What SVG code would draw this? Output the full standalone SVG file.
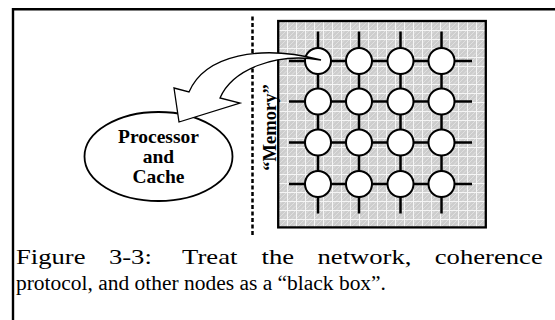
<svg xmlns="http://www.w3.org/2000/svg" width="555" height="320" viewBox="0 0 555 320">
<style>
.ln{stroke:#000;stroke-width:2.5;fill:none}
.nd{fill:#fff;stroke:#000;stroke-width:2}
.bt{font-family:"Liberation Serif","Times New Roman",serif;font-weight:bold;fill:#000}
.cap{font-family:"Liberation Serif","Times New Roman",serif;font-size:20.5px;fill:#000}
</style>
<defs>
<pattern id="hatch" width="9" height="9" patternUnits="userSpaceOnUse" x="278" y="21">
<rect width="9" height="9" fill="#cdcdcd"/>
<path d="M0,9 L9,0 M-2,2 L2,-2 M7,11 L11,7 M0,4.5 L4.5,0 M4.5,9 L9,4.5" stroke="#e2e2e2" stroke-width="0.9"/>
<rect width="9" height="1" fill="#f5f5f5"/>
<rect width="1" height="9" fill="#f5f5f5"/>
</pattern>
</defs>
<rect width="555" height="320" fill="#fff"/>
<g id="frame"><path d="M13,320 V9.3 H556" fill="none" stroke="#000" stroke-width="2.4"/></g>
<g id="network-box"><rect x="278.2" y="21" width="207.6" height="206.4" fill="url(#hatch)" stroke="#000" stroke-width="2.3"/></g>
<g id="connectors">
<path class="ln" d="M289,61 H472 M289,101.5 H472 M289,142.5 H472 M289,184 H472 M318,31.5 V213.5 M359,31.5 V213.5 M400.5,31.5 V213.5 M441.5,31.5 V213.5"/>
</g>
<g id="n11"><circle class="nd" cx="318" cy="61" r="13"/></g>
<g id="n12"><circle class="nd" cx="359" cy="61" r="13"/></g>
<g id="n13"><circle class="nd" cx="400.5" cy="61" r="13"/></g>
<g id="n14"><circle class="nd" cx="441.5" cy="61" r="13"/></g>
<g id="n21"><circle class="nd" cx="318" cy="101.5" r="13"/></g>
<g id="n22"><circle class="nd" cx="359" cy="101.5" r="13"/></g>
<g id="n23"><circle class="nd" cx="400.5" cy="101.5" r="13"/></g>
<g id="n24"><circle class="nd" cx="441.5" cy="101.5" r="13"/></g>
<g id="n31"><circle class="nd" cx="318" cy="142.5" r="13"/></g>
<g id="n32"><circle class="nd" cx="359" cy="142.5" r="13"/></g>
<g id="n33"><circle class="nd" cx="400.5" cy="142.5" r="13"/></g>
<g id="n34"><circle class="nd" cx="441.5" cy="142.5" r="13"/></g>
<g id="n41"><circle class="nd" cx="318" cy="184" r="13"/></g>
<g id="n42"><circle class="nd" cx="359" cy="184" r="13"/></g>
<g id="n43"><circle class="nd" cx="400.5" cy="184" r="13"/></g>
<g id="n44"><circle class="nd" cx="441.5" cy="184" r="13"/></g>
<g id="boundary"><line x1="252.5" y1="16.5" x2="252.5" y2="235" stroke="#000" stroke-width="2.5" stroke-dasharray="4 2.5"/>
<text class="bt" font-size="18.5" text-anchor="middle" transform="translate(275.5,127.5) rotate(-90)">“Memory”</text></g>
<g id="processor"><ellipse cx="158.5" cy="156.5" rx="74" ry="44.5" fill="#fff" stroke="#000" stroke-width="1.8"/>
<text class="bt" font-size="19.5" text-anchor="middle"><tspan x="158.5" y="142.5">Processor</tspan><tspan x="158.5" y="162.5">and</tspan><tspan x="158.5" y="182.5">Cache</tspan></text></g>
<g id="arrow"><path d="M321,60 C260,44 205,55 189,92 L174,88 L179,122 L240,103 L220,98 C232,70 275,52 321,60 Z" fill="#fff" stroke="#000" stroke-width="1.3" stroke-linejoin="miter"/></g>
<g id="caption">
<text class="cap" y="264.5" transform="scale(1.3,1)"><tspan x="12.31">Figure</tspan> <tspan x="83.77">3-3:</tspan> <tspan x="140.08">Treat</tspan> <tspan x="201.23">the</tspan> <tspan x="244.23">network,</tspan> <tspan x="334.46">coherence</tspan></text>
<text class="cap" x="16" y="290" textLength="370" lengthAdjust="spacingAndGlyphs">protocol, and other nodes as a “black box”.</text>
</g>
</svg>
